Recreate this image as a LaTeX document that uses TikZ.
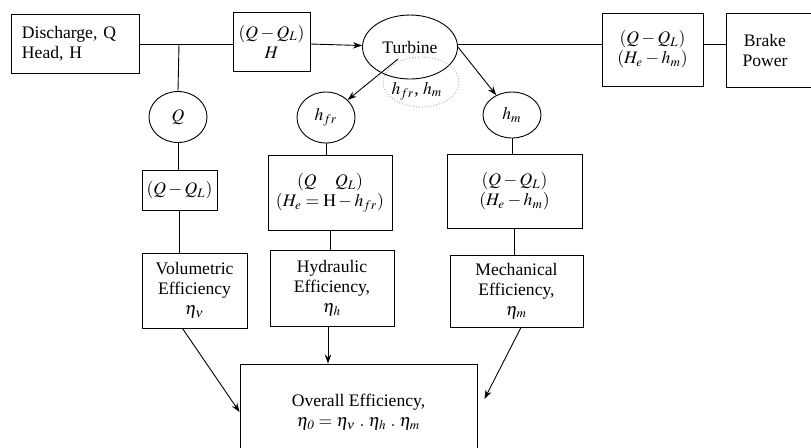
\documentclass[tikz,border=0pt]{standalone}
\usepackage{mathptmx}
\usepackage[no-math]{fontspec}
\setmainfont{Liberation Serif}
\usetikzlibrary{shapes.geometric,arrows.meta}
\begin{document}
\begin{tikzpicture}[x=0.5pt,y=-0.5pt,
  font=\fontsize{8.8}{10}\selectfont,
  line width=0.45pt,
  box/.style={draw, rectangle, align=center, inner sep=0pt},
  oval/.style={draw, ellipse, inner sep=0pt},
  arr/.style={-{Stealth[length=4.5pt,width=3.2pt]}}]
\useasboundingbox (0,0) rectangle (811,447);
\clip (0,0) rectangle (811,447);

% top row
\node[box, align=left, text width=53pt, minimum width=64pt, minimum height=29.5pt] (dis) at (75,43.5) {Discharge, Q\\Head, H};
\node[box, minimum width=38.5pt, minimum height=29.5pt] (b2) at (271.5,41.5) {$(Q-Q_L)$\\$H$};
\node[oval, minimum width=47.5pt, minimum height=32pt] (tur) at (410,47) {Turbine};
\node[oval, draw=gray!70, densely dotted, minimum width=38pt, minimum height=25pt] (dot) at (421,82) {};
\node (dottxt) at (417,91) {$h_{fr}$, $h_m$};
\node[box, minimum width=50.5pt, minimum height=36.5pt] (b3) at (652.5,49.5) {$(Q-Q_L)$\\$(H_e-h_m)$};
\node[box, minimum width=45pt, minimum height=37pt] (brake) at (771,50) {\hspace*{-6pt}Brake\\\hspace*{-6pt}Power};

% circles
\node[oval, minimum width=29pt, minimum height=25.5pt] (q) at (178,117) {$Q$};
\node[oval, minimum width=29pt, minimum height=25.5pt] (hfr) at (326,117.5) {$h_{fr}$};
\node[oval, minimum width=29pt, minimum height=23pt] (hm) at (512,115) {$h_m$};

% middle boxes
\node[box, minimum width=37.5pt, minimum height=20pt] (bq) at (179.5,190) {$(Q-Q_L)$};
\node[box, minimum width=62pt, minimum height=37.5pt] (bh) at (330,192.5) {$(Q\mathbin{\phantom{-}}Q_L)$\\$(H_e=\mathrm{H}-h_{fr})$};
\node[box, minimum width=67.5pt, minimum height=37pt] (bm) at (514.5,191) {$(Q-Q_L)$\\$(H_e-h_m)$};

% efficiency boxes
\node[box, minimum width=52.5pt, minimum height=37.5pt] (vol) at (194.5,290.5) {Volumetric\\Efficiency\\$\eta_\nu$};
\node[box, minimum width=62pt, minimum height=38pt] (hyd) at (332,288) {Hydraulic\\Efficiency,\\$\eta_h$};
\node[box, minimum width=66.5pt, minimum height=36pt] (mec) at (516.5,291) {Mechanical\\Efficiency,\\$\eta_m$};
\node[box, minimum width=118.5pt, minimum height=48pt] (ov) at (358.5,412) {Overall Efficiency,\\$\eta_{\mathit{0}}=\eta_\nu\;.\;\eta_h\;.\;\eta_m$};

% connectors
\coordinate (j) at (179,44);
\coordinate (ts) at (398,59);
\draw (dis.east |- j) -- (b2.west |- j);
\draw (j) -- (q.north);
\draw[arr] (b2.east |- j) -- (tur);
\draw (tur.east |- j) -- (b3.west |- j);
\draw (b3.east |- j) -- (brake.west |- j);
\draw[arr] (ts) -- (hfr);
\draw[arr] (tur.east) -- (hm);

\draw (q.south) -- (q.south |- bq.north);
\draw (bq.south) -- (bq.south |- vol.north);
\draw (hfr.south) -- (hfr.south |- bh.north);
\draw (bh.south) -- (bh.south |- hyd.north);
\draw (hm.south) -- (hm.south |- bm.north);
\draw (bm.south) -- (bm.south |- mec.north);

\draw[arr] ([xshift=-2pt]hyd.south) -- ([xshift=-2pt]hyd.south |- ov.north);
\draw[arr] ([xshift=-6pt]vol.south) -- (ov.west);
\draw[arr] ([xshift=2.25pt]mec.south) -- ([shift={(3.5pt,6.5pt)}]ov.east);
\end{tikzpicture}
\end{document}
